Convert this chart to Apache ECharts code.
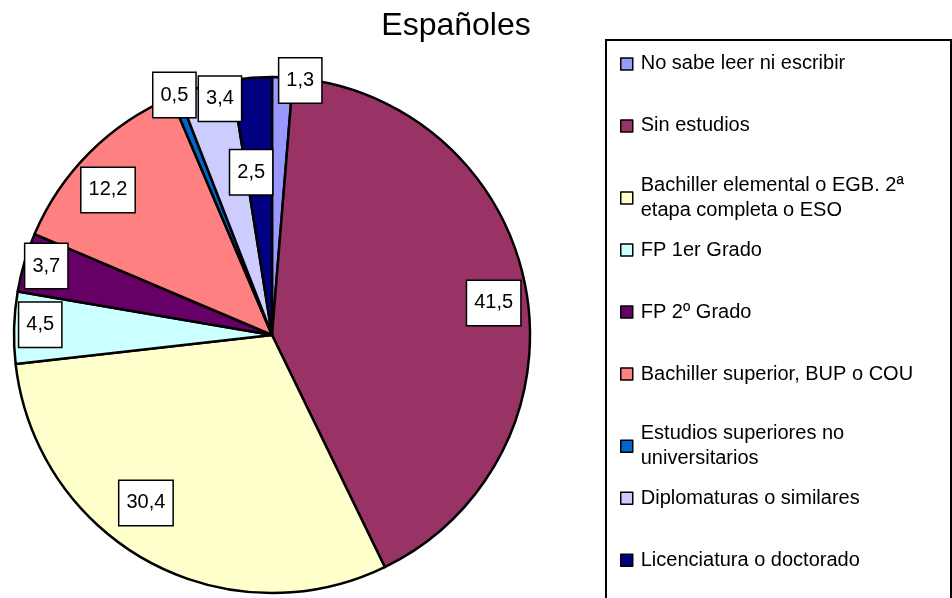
<!DOCTYPE html>
<html>
<head>
<meta charset="utf-8">
<script src="https://cdn.jsdelivr.net/npm/echarts@6/dist/echarts.min.js"></script>
<style>html,body{margin:0;padding:0;background:#fff;}#chart{width:952px;height:598px;}</style>
</head>
<body>
<div id="chart"></div>
<script>
// ---- data ----
var chartTitle = 'Españoles';
var categories = [
  'No sabe leer ni escribir',
  'Sin estudios',
  'Bachiller elemental o EGB. 2ª\netapa completa o ESO',
  'FP 1er Grado',
  'FP 2º Grado',
  'Bachiller superior, BUP o COU',
  'Estudios superiores no\nuniversitarios',
  'Diplomaturas o similares',
  'Licenciatura o doctorado'
];
var values = [1.3, 41.5, 30.4, 4.5, 3.7, 12.2, 0.5, 3.4, 2.5];

// ---- styles / layout ----
var colors = ['#9999FF', '#993366', '#FFFFCC', '#CCFFFF', '#660066', '#FF8080', '#0066CC', '#CCCCFF', '#000080'];
var labelRadius = [256, 224, 210, 232, 236, 219, 259, 242, 164];
var labelAngleShift = [4.0, 2.4, 8.1, 0.9, 0.6, -3.5, 0, 2.7, -2.8];
var FONT = 'Arial, "Liberation Sans", sans-serif';
var CX = 272, CY = 335, R = 258;
var legendFirst = 61.4, legendStep = 62.04, legendK = 10;

var chart = echarts.init(document.getElementById('chart'), null, {renderer: 'canvas'});

var legends = categories.map(function (name, i) {
  var c = legendFirst + legendStep * i;
  return {
    data: [name],
    orient: 'vertical',
    left: 620,
    top: c - legendK,
    padding: 0,
    itemWidth: 12,
    itemHeight: 12,
    icon: 'rect',
    selectedMode: false,
    itemStyle: {borderColor: '#000', borderWidth: 1.5},
    textStyle: {color: '#000', fontSize: 20, fontFamily: FONT, lineHeight: 25, height: 25, padding: [0, 0, 0, 3]}
  };
});

var option = {
  animation: false,
  backgroundColor: '#fff',
  title: {
    text: chartTitle,
    left: 456,
    top: 10,
    padding: 0,
    textAlign: 'center',
    textStyle: {color: '#000', fontSize: 32, fontWeight: 'normal', fontFamily: FONT}
  },
  legend: legends,
  graphic: [{
    type: 'rect',
    shape: {x: 606, y: 40, width: 345, height: 620},
    style: {fill: 'none', stroke: '#000', lineWidth: 2},
    silent: true,
    z: 0
  }],
  series: [{
    type: 'pie',
    center: [CX, CY],
    radius: R,
    startAngle: 90,
    clockwise: true,
    avoidLabelOverlap: false,
    silent: true,
    itemStyle: {borderColor: '#000', borderWidth: 2.5},
    label: {
      show: true,
      position: 'inside',
      color: '#000',
      fontSize: 20,
      fontFamily: FONT,
      lineHeight: 22,
      backgroundColor: '#fff',
      borderColor: '#000',
      borderWidth: 1.5,
      padding: [11, 7],
      formatter: function (p) { return p.value.toFixed(1).replace('.', ','); }
    },
    labelLine: {show: false},
    labelLayout: function (params) {
      var r = params.labelRect;
      var lx = r.x + r.width / 2, ly = r.y + r.height / 2;
      var th = Math.atan2(lx - CX, CY - ly) + labelAngleShift[params.dataIndex] * Math.PI / 180;
      var rr = labelRadius[params.dataIndex];
      return {x: CX + rr * Math.sin(th), y: CY - rr * Math.cos(th)};
    },
    data: categories.map(function (n, i) {
      return {name: n, value: values[i], itemStyle: {color: colors[i]}};
    })
  }]
};
chart.setOption(option);
</script>
</body>
</html>
